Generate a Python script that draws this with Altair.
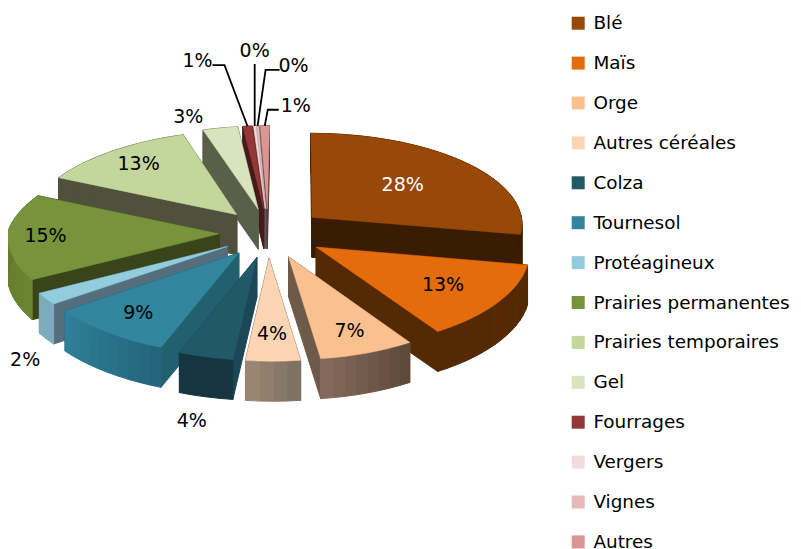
import math
import altair as alt
import pandas as pd

# ---- data
names = ["Blé", "Maïs", "Orge", "Autres céréales", "Colza", "Tournesol", "Protéagineux",
         "Prairies permanentes", "Prairies temporaires", "Gel", "Fourrages", "Vergers", "Vignes", "Autres"]
values = [28, 13, 7, 4, 4, 9, 2, 15, 13, 3, 0.8, 0.2, 0.2, 0.8]
colors = ["#984807", "#E46C0A", "#FAC090", "#FCD5B5", "#215968", "#31859C", "#93CDDD",
          "#77933C", "#C3D69B", "#D7E4BD", "#953735", "#F2DCDB", "#E6B9B8", "#D99694"]

# ---- wall shades per slice: radial wall, outer wall start, outer wall end
walls = [("#3a1c03", "#3a1c03", "#3a1c03"), ("#552903", "#552903", "#552903"),
         ("#6e5a48", "#5f4a3a", "#84695a"), ("#6e5a48", "#7e7264", "#9a8472"),
         ("#1b4757", "#163540", "#163540"), ("#22606f", "#24657c", "#2f7f98"),
         ("#546e7d", "#7dabbd", "#7dabbd"), ("#3a4419", "#6b8530", "#5f7526"),
         ("#50503c", "#50503c", "#50503c"), ("#5a5f4b", "#5a5f4b", "#5a5f4b"),
         ("#461a1a", "#461a1a", "#461a1a"), ("#64585a", "#64585a", "#64585a"),
         ("#5a4646", "#5a4646", "#5a4646"), ("#5a3c3c", "#5a3c3c", "#5a3c3c")]

# ---- pie projection
CX, CY, RX, RY, K, EXPL, DEPTH = 268, 233, 212, 92, 0.07, 0.27, 40

def project(u, v):
    s = 1 / (1 - K * v)
    if v < 0:
        c = 0.07 if u > 0 else 0.095
        return CX + RX * u * (1 + c * v) - 2 * v, CY + RY * s * v
    return CX + RX * u * (1 + 0.03 * v) + 4 * v, CY + RY * s * v

def mix(a, b, t):
    pa = [int(a[i:i + 2], 16) for i in (1, 3, 5)]
    pb = [int(b[i:i + 2], 16) for i in (1, 3, 5)]
    return "#%02x%02x%02x" % tuple(round(x + (y - x) * t) for x, y in zip(pa, pb))

total = sum(values)
geo = []
start = 0.0
for n, v in zip(names, values):
    sweep = v / total * 2 * math.pi
    mid = start + sweep / 2
    du = EXPL * math.sin(mid)
    geo.append(dict(name=n, a0=start, a1=start + sweep, mid=mid,
                    du=du * 0.85 if du < 0 else du, dv=-EXPL * math.cos(mid)))
    start += sweep

def pt(g, a, r=1.0):
    return project(g["du"] + r * math.sin(a), g["dv"] - r * math.cos(a))

top_rows, wall_rows = [], []
order = sorted(range(len(geo)), key=lambda i: geo[i]["dv"])
for rank, i in enumerate(order):
    g = geo[i]
    steps = max(2, int((g["a1"] - g["a0"]) / math.radians(3)))
    angles = [g["a0"] + (g["a1"] - g["a0"]) * k / steps for k in range(steps + 1)]
    vertex = project(g["du"], g["dv"])
    poly = [vertex] + [pt(g, a) for a in angles]
    for s, (x, y) in enumerate(poly):
        top_rows.append(dict(name=g["name"], seq=s, x=x, y=y))
    rad, o0, o1 = walls[i]
    pid = 0
    for a in (g["a0"], g["a1"]):
        p = pt(g, a)
        quad = [vertex, p, (p[0], p[1] + DEPTH), (vertex[0], vertex[1] + DEPTH)]
        for s, (x, y) in enumerate(quad):
            wall_rows.append(dict(poly=f"{rank:02d}-{pid:02d}", seq=s, x=x, y=y, shade=rad))
        pid += 1
    for k in range(steps):
        p, q = pt(g, angles[k]), pt(g, angles[k + 1])
        quad = [p, q, (q[0], q[1] + DEPTH), (p[0], p[1] + DEPTH)]
        shade = mix(o0, o1, k / max(1, steps - 1))
        for s, (x, y) in enumerate(quad):
            wall_rows.append(dict(poly=f"{rank:02d}-{pid:02d}", seq=s, x=x, y=y, shade=shade))
        pid += 1

# ---- labels: inside ones at a radial fraction, outside ones offset from the arc middle
inside = {"Blé": .58, "Maïs": .7, "Orge": .78, "Autres céréales": .75,
          "Tournesol": .77, "Prairies permanentes": .82, "Prairies temporaires": .78}
outside = {"Colza": (-14, 64), "Protéagineux": (-21, 61), "Gel": (-32, -11)}
leaders = {"Fourrages": [(-23, -61), (-35, -61)], "Vergers": [(0, -62), (0, -62)],
           "Vignes": [(8, -56), (22, -56)], "Autres": [(3, -16), (14, -16)]}
leader_text = {"Fourrages": (-15, -4), "Vergers": (0, -13), "Vignes": (14, -4), "Autres": (17, -4)}

label_rows, leader_rows = [], []
for g, v in zip(geo, values):
    n = g["name"]
    text = f"{round(v)}%"
    colr = "#ffffff" if n == "Blé" else "#000000"
    if n in inside:
        x, y = pt(g, g["mid"], inside[n])
    elif n in outside:
        x, y = pt(g, g["mid"])
        x += outside[n][0]
        y += outside[n][1]
    else:
        x0, y0 = pt(g, g["mid"])
        path = [(x0, y0)] + [(x0 + d[0], y0 + d[1]) for d in leaders[n]]
        for s, (px, py) in enumerate(path):
            leader_rows.append(dict(name=n, seq=s, x=px, y=py))
        x = path[-1][0] + leader_text[n][0]
        y = path[-1][1] + leader_text[n][1]
    label_rows.append(dict(x=x, y=y, text=text, colr=colr))

X = alt.X("x:Q", axis=None, scale=alt.Scale(domain=[8, 793], nice=False, zero=False))
Y = alt.Y("y:Q", axis=None, scale=alt.Scale(domain=[549, 8], nice=False, zero=False))

wall_layer = alt.Chart(pd.DataFrame(wall_rows)).mark_line(
    interpolate="linear-closed", strokeWidth=1
).encode(
    x=X, y=Y, order="seq:Q", detail="poly:N",
    fill=alt.Fill("shade:N", scale=None, legend=None),
    stroke=alt.Stroke("shade:N", scale=None, legend=None),
)

leg = alt.Legend(orient="none", legendX=561, legendY=6, title=None, symbolType="square",
                 symbolSize=169, symbolStrokeWidth=0, labelFont="DejaVu Sans", labelFontSize=18.4,
                 labelColor="#000000", labelOffset=6, rowPadding=20.9, labelLimit=260)
cscale = alt.Scale(domain=names, range=colors)
top_layer = alt.Chart(pd.DataFrame(top_rows)).mark_line(
    interpolate="linear-closed", strokeWidth=0.5
).encode(
    x=X, y=Y, order="seq:Q", detail="name:N",
    fill=alt.Fill("name:N", scale=cscale, sort=names, legend=leg),
    stroke=alt.Stroke("name:N", scale=cscale, sort=names, legend=None),
)

leader_layer = alt.Chart(pd.DataFrame(leader_rows)).mark_line(
    color="#000000", strokeWidth=1.8
).encode(x=X, y=Y, order="seq:Q", detail="name:N")

text_layer = alt.Chart(pd.DataFrame(label_rows)).mark_text(
    font="DejaVu Sans", fontSize=19, align="center", baseline="middle"
).encode(x=X, y=Y, text="text:N", color=alt.Color("colr:N", scale=None, legend=None))

chart = (wall_layer + top_layer + leader_layer + text_layer).resolve_scale(
    fill="independent", stroke="independent", color="independent"
).properties(
    width=785, height=541, padding=0, autosize=alt.AutoSizeParams(type="none")
).configure_view(stroke=None)

chart.save("out.html", embed_options={"renderer": "svg", "actions": False})
